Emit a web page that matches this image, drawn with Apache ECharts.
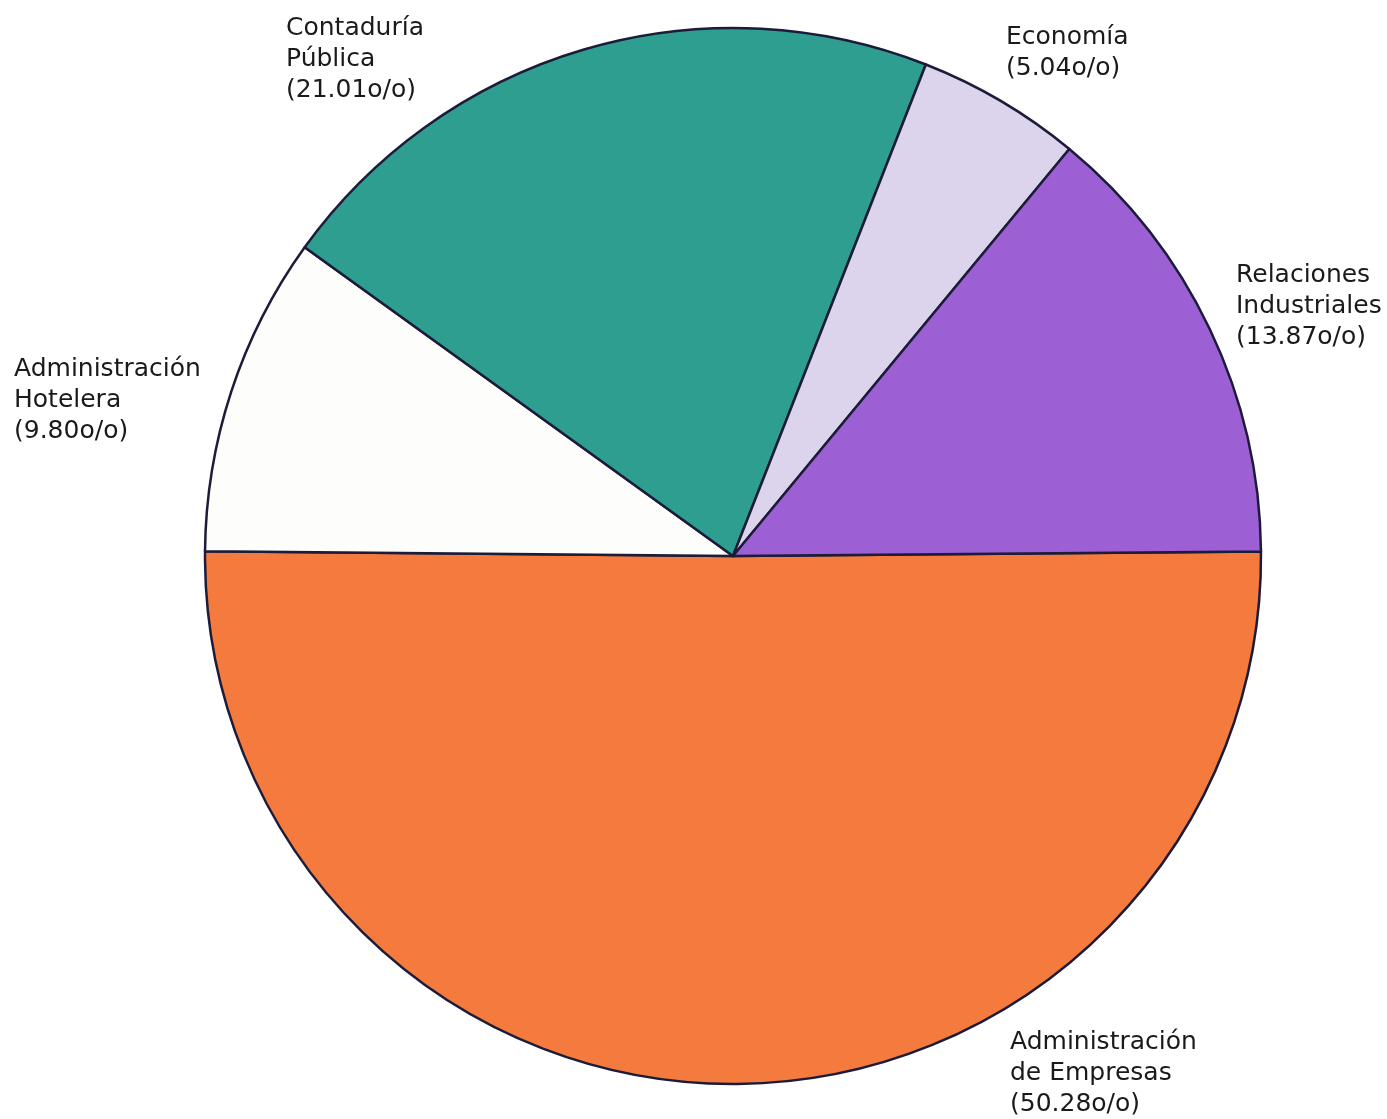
<!DOCTYPE html>
<html><head><meta charset="utf-8">
<script src="https://cdn.jsdelivr.net/npm/echarts@6/dist/echarts.min.js"></script>
<style>html,body{margin:0;padding:0;background:#fff}#c{width:1387px;height:1119px}</style>
</head><body><div id="c"></div>
<script>
const categories = ['Administración\nde Empresas', 'Administración\nHotelera', 'Contaduría\nPública', 'Economía', 'Relaciones\nIndustriales'];
const values = [50.28, 9.80, 21.01, 5.04, 13.87];
const valueLabels = ['50.28o/o', '9.80o/o', '21.01o/o', '5.04o/o', '13.87o/o'];
const colors = ['#F47B3D', '#FDFDFB', '#2E9E90', '#DCD4EC', '#9C5FD4'];
const labelPos = [[1010, 1027], [14, 354], [286, 13], [1006, 22], [1236, 260]];

const chart = echarts.init(document.getElementById('c'), null, {renderer: 'canvas'});
chart.setOption({
  animation: false,
  series: [{
    type: 'pie',
    center: [733, 556],
    radius: 528,
    startAngle: 0.5,
    clockwise: true,
    data: categories.map((n, i) => ({name: n, value: values[i], itemStyle: {color: colors[i]}})),
    itemStyle: {borderColor: '#1c1c3a', borderWidth: 2.5},
    label: {
      show: true,
      position: 'outside',
      formatter: p => p.name + '\n(' + valueLabels[p.dataIndex] + ')',
      fontFamily: 'DejaVu Sans',
      fontSize: 25,
      lineHeight: 31,
      color: '#1a1a1a',
      overflow: 'none'
    },
    labelLine: {show: false},
    labelLayout: p => ({x: labelPos[p.dataIndex][0], y: labelPos[p.dataIndex][1], align: 'left', verticalAlign: 'top'}),
    emphasis: {disabled: true}
  }]
});
</script></body></html>
